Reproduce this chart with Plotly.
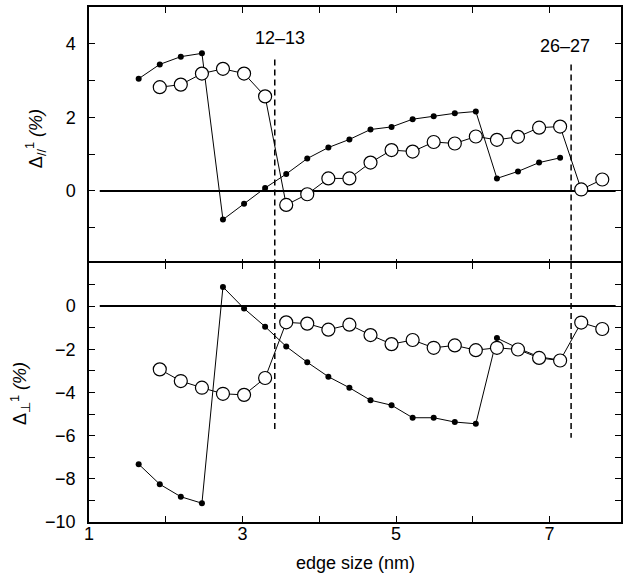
import plotly.graph_objects as go

# edge sizes (nm)
x_filled = [1.647, 1.922, 2.196, 2.471, 2.745, 3.020, 3.294, 3.569, 3.843, 4.118, 4.392,
            4.667, 4.941, 5.216, 5.490, 5.765, 6.039, 6.314, 6.588, 6.863, 7.137]
x_open = [1.922, 2.196, 2.471, 2.745, 3.020, 3.294, 3.569, 3.843, 4.118, 4.392, 4.667,
          4.941, 5.216, 5.490, 5.765, 6.039, 6.314, 6.588, 6.863, 7.137, 7.412, 7.686]

top_filled = [3.05, 3.44, 3.65, 3.74, -0.78, -0.35, 0.08, 0.46, 0.88, 1.18, 1.40,
              1.67, 1.74, 1.95, 2.03, 2.11, 2.16, 0.34, 0.53, 0.77, 0.90]
top_open = [2.82, 2.89, 3.19, 3.32, 3.19, 2.57, -0.38, -0.09, 0.34, 0.34, 0.77,
            1.11, 1.07, 1.33, 1.29, 1.48, 1.39, 1.47, 1.72, 1.75, 0.04, 0.31]
bot_filled = [-7.32, -8.25, -8.83, -9.13, 0.89, -0.11, -0.95, -1.87, -2.60, -3.27, -3.78,
              -4.36, -4.59, -5.17, -5.17, -5.37, -5.45, -1.48, -1.95, -2.35, -2.50]
bot_open = [-2.93, -3.47, -3.78, -4.06, -4.11, -3.33, -0.75, -0.81, -1.09, -0.86, -1.34,
            -1.76, -1.57, -1.93, -1.82, -2.04, -1.93, -2.01, -2.40, -2.52, -0.76, -1.06]

# vertical dashed markers (shell transitions)
dash_x = [3.42, 7.28]
dash_labels = ["12\u201313", "26\u201327"]
dash_top_start = [3.57, 3.44]
dash_bot_end = [-5.87, -6.1]
label_pos_x = [3.49, 7.2]
label_pos_y = [4.17, 3.95]

zero_x = [1.14, 7.86]

x_ticks = [1, 3, 5, 7]
top_ticks = [0, 2, 4]
bot_ticks = [-10, -8, -6, -4, -2, 0]
bot_ticktext = ["\u221210", "\u22128", "\u22126", "\u22124", "\u22122", "0"]

FONT = "Liberation Sans, Arial, sans-serif"
FS = 18

fig = go.Figure()

for ya, xs_o, ys_o, xs_f, ys_f in [("y", x_open, top_open, x_filled, top_filled),
                                    ("y2", x_open, bot_open, x_filled, bot_filled)]:
    xa = "x" if ya == "y" else "x2"
    # zero line
    fig.add_trace(go.Scatter(x=zero_x, y=[0, 0], mode="lines", xaxis=xa, yaxis=ya,
                             line=dict(color="black", width=2), showlegend=False, hoverinfo="skip"))
    fig.add_trace(go.Scatter(x=xs_f, y=ys_f, mode="lines+markers", xaxis=xa, yaxis=ya,
                             line=dict(color="black", width=1),
                             marker=dict(size=6, color="black"),
                             showlegend=False))
    fig.add_trace(go.Scatter(x=xs_o, y=ys_o, mode="lines+markers", xaxis=xa, yaxis=ya,
                             line=dict(color="black", width=1),
                             marker=dict(size=13, color="white", line=dict(color="black", width=1.2)),
                             showlegend=False))

for dx, t0, b1 in zip(dash_x, dash_top_start, dash_bot_end):
    fig.add_trace(go.Scatter(x=[dx, dx], y=[t0, -2], mode="lines", xaxis="x", yaxis="y",
                             line=dict(color="black", width=1.5, dash="6px,4px"),
                             showlegend=False, hoverinfo="skip"))
    fig.add_trace(go.Scatter(x=[dx, dx], y=[2, b1], mode="lines", xaxis="x2", yaxis="y2",
                             line=dict(color="black", width=1.5, dash="6px,4px"),
                             showlegend=False, hoverinfo="skip"))

annotations = []
for lx, ly, lt in zip(label_pos_x, label_pos_y, dash_labels):
    annotations.append(dict(x=lx, y=ly, xref="x", yref="y", text=lt, showarrow=False,
                            font=dict(size=FS, color="black", family=FONT)))

annotations.append(dict(x=-0.1, y=0.745, xref="paper", yref="paper", xanchor="center", yanchor="middle",
                        text="\u0394<sub>//</sub><sup>1</sup> <i>(%)</i>", textangle=-90, showarrow=False,
                        font=dict(size=FS, color="black", family=FONT)))
annotations.append(dict(x=-0.13, y=0.25, xref="paper", yref="paper", xanchor="center", yanchor="middle",
                        text="\u0394<sub>\u22a5</sub><sup>1</sup> <i>(%)</i>", textangle=-90, showarrow=False,
                        font=dict(size=FS, color="black", family=FONT)))
annotations.append(dict(x=0.5, y=-0.08, xref="paper", yref="paper", xanchor="center", yanchor="middle",
                        text="edge size (nm)", showarrow=False,
                        font=dict(size=FS, color="black", family=FONT)))

minor = dict(dtick=1, ticks="inside", ticklen=6, tickwidth=1.2, tickcolor="black", showgrid=False)
axis_common = dict(showline=True, linecolor="black", linewidth=1.5, mirror="ticks",
                   ticks="inside", ticklen=6, tickwidth=1.2, tickcolor="black",
                   showgrid=False, zeroline=False, minor=minor,
                   tickfont=dict(size=FS, color="black", family=FONT))

fig.update_layout(
    width=625, height=576,
    margin=dict(l=89, r=2, t=7, b=54),
    paper_bgcolor="white", plot_bgcolor="white",
    font=dict(family=FONT, color="black"),
    annotations=annotations,
    xaxis=dict(domain=[0, 1], range=[1, 7.93], anchor="y", tickvals=x_ticks,
               showticklabels=False, **axis_common),
    yaxis=dict(domain=[0.5, 1], range=[-2, 5], anchor="x", tickvals=top_ticks,
               ticklabelstandoff=8, **axis_common),
    xaxis2=dict(domain=[0, 1], range=[1, 7.93], anchor="y2", tickvals=x_ticks,
                ticklabelstandoff=-5, **axis_common),
    yaxis2=dict(domain=[0, 0.503], range=[-10, 2], anchor="x2", tickvals=bot_ticks,
                ticktext=bot_ticktext, ticklabelstandoff=8, **axis_common),
)

fig.write_html("out.html")
